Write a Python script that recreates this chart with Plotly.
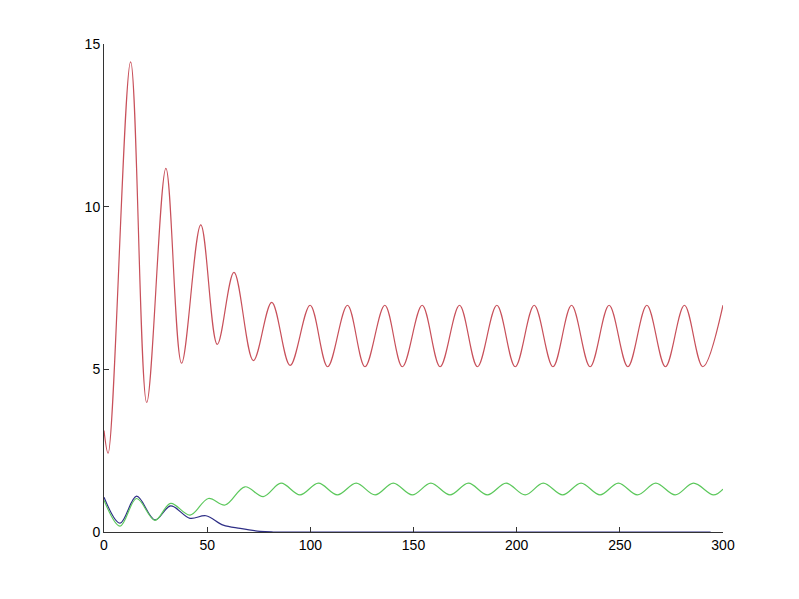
import plotly.graph_objects as go

# Red series (peaks/troughs)
red_x = [0, 2, 12.9, 20.7, 30.0, 37.6, 46.9, 54.9, 63.0, 72.4, 81.3, 90.2, 99.9, 108.4, 118.0,
         126.5, 136.1, 144.6, 154.2, 162.9, 172.3, 181.0, 190.4, 199.3, 208.5, 217.6, 226.6,
         235.6, 244.8, 253.9, 263.1, 272.1, 281.3, 290.2, 300]
red_y = [3.12, 2.42, 14.45, 3.98, 11.18, 5.19, 9.44, 5.77, 7.98, 5.27, 7.06, 5.12, 6.97, 5.08, 6.97,
         5.08, 6.97, 5.08, 6.97, 5.08, 6.97, 5.08, 6.97, 5.08, 6.97, 5.08, 6.97,
         5.08, 6.97, 5.08, 6.97, 5.08, 6.97, 5.08, 6.97]

# Green series
green_x = [0, 7.8, 15.8, 24.7, 32.3, 41.7, 50.6, 58.7, 68.3, 77.2, 85.8, 95.0, 103.9, 113.1, 122.2,
           131.4, 140.2, 149.4, 158.4, 167.7, 176.6, 185.8, 194.9, 204.1, 212.9, 222.3, 231.2,
           240.4, 249.3, 258.5, 267.4, 276.8, 285.7, 295.4, 300]
green_y = [0.98, 0.18, 1.03, 0.36, 0.88, 0.52, 1.03, 0.83, 1.39, 1.09, 1.50, 1.14, 1.50, 1.14, 1.50,
           1.14, 1.50, 1.14, 1.50, 1.14, 1.50, 1.14, 1.50, 1.14, 1.50, 1.14, 1.50,
           1.14, 1.50, 1.14, 1.50, 1.14, 1.50, 1.14, 1.32]

# Blue series
blue_x = [0, 7.8, 15.8, 24.7, 32.3, 41.7, 49.4, 57.8, 66, 75.6, 82, 100, 294]
blue_y = [1.07, 0.27, 1.10, 0.37, 0.80, 0.42, 0.50, 0.21, 0.11, 0.02, 0.0, 0.0, 0.0]

x_ticks = [0, 50, 100, 150, 200, 250, 300]
y_ticks = [0, 5, 10, 15]

fig = go.Figure()
fig.add_trace(go.Scatter(x=blue_x, y=blue_y, mode="lines",
                         line=dict(color="#2e2e86", width=1.2, shape="spline", smoothing=1)))
fig.add_trace(go.Scatter(x=green_x, y=green_y, mode="lines",
                         line=dict(color="#5cc85c", width=1.2, shape="spline", smoothing=1)))
fig.add_trace(go.Scatter(x=red_x, y=red_y, mode="lines",
                         line=dict(color="#c8505a", width=1.2, shape="spline", smoothing=1)))

axis_common = dict(showgrid=False, zeroline=False, showline=True, linecolor="#333333",
                   linewidth=1, ticks="inside", ticklen=5, tickcolor="#333333",
                   tickfont=dict(family="Liberation Sans, Arial, sans-serif", size=14, color="black"))
fig.update_layout(
    width=799, height=599,
    margin=dict(l=96, r=84, t=36, b=75),
    paper_bgcolor="white", plot_bgcolor="white",
    showlegend=False,
    xaxis=dict(range=[0, 300], tickvals=x_ticks, **axis_common),
    yaxis=dict(range=[0, 15], tickvals=y_ticks, **axis_common),
)
fig.write_html("out.html")
